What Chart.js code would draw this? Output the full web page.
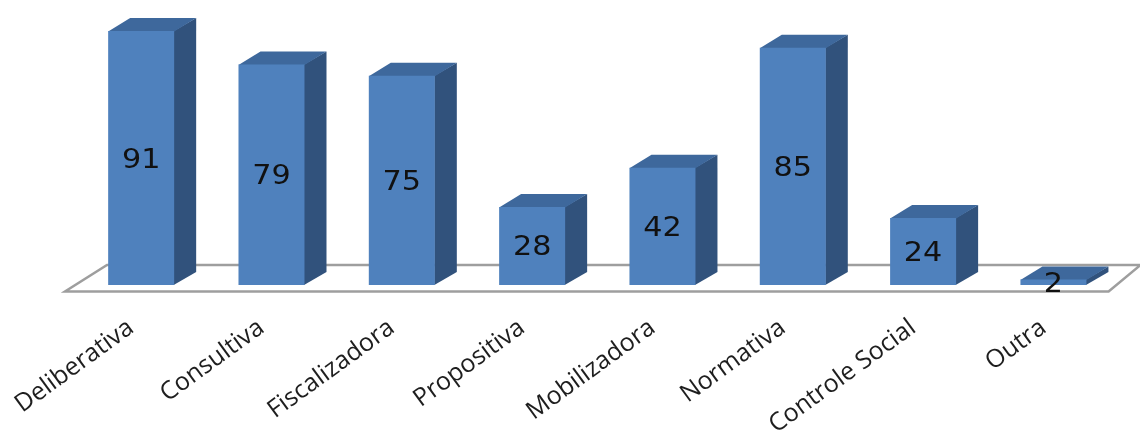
<!DOCTYPE html>
<html lang="pt">
<head>
<meta charset="utf-8">
<title>Funções</title>
<script src="https://cdn.jsdelivr.net/npm/chart.js@4"></script>
<style>
html,body{margin:0;padding:0;background:#fff}
#wrap{width:1140px;height:431px;position:relative}
</style>
</head>
<body>
<div id="wrap"><canvas id="chart"></canvas></div>
<script>
const categories = ["Deliberativa","Consultiva","Fiscalizadora","Propositiva","Mobilizadora","Normativa","Controle Social","Outra"];
const counts = [91,79,75,28,42,85,24,2];

const FRONT = "#4F81BD", TOP = "#3E689C", SIDE = "#31527C", FLOOR = "#9E9E9E";
const DEPTH_X = 22, DEPTH_Y = 13;

function poly(ctx, pts, fill) {
  ctx.beginPath();
  pts.forEach((p, i) => i ? ctx.lineTo(p[0], p[1]) : ctx.moveTo(p[0], p[1]));
  ctx.closePath();
  ctx.fillStyle = fill;
  ctx.fill();
}

// Floor plane under the columns
const floorPlane = {
  id: "floorPlane",
  beforeDatasetsDraw(chart) {
    const { ctx, scales: { x, y } } = chart;
    const base = y.getPixelForValue(0);
    const front = base + 6.5, back = base - 20;
    ctx.save();
    ctx.strokeStyle = FLOOR;
    ctx.lineWidth = 2.5;
    ctx.beginPath();
    ctx.moveTo(x.left - 11, front);
    ctx.lineTo(x.right - 10, front);
    ctx.lineTo(x.right + 22, back);
    ctx.lineTo(x.left + 31, back);
    ctx.closePath();
    ctx.stroke();
    ctx.restore();
  }
};

// Extruded top and side of each column, taken from the bar elements
const extrude = {
  id: "extrude",
  beforeDatasetDraw(chart) {
    const { ctx } = chart;
    ctx.save();
    chart.getDatasetMeta(0).data.forEach(bar => {
      const l = bar.x - bar.width / 2, r = bar.x + bar.width / 2;
      const t = bar.y, b = bar.base;
      poly(ctx, [[r - 0.5, t], [r + DEPTH_X, t - DEPTH_Y], [r + DEPTH_X, b - DEPTH_Y], [r - 0.5, b]], SIDE);
      poly(ctx, [[l, t + 0.5], [l + DEPTH_X, t - DEPTH_Y], [r + DEPTH_X, t - DEPTH_Y], [r, t + 0.5]], TOP);
    });
    ctx.restore();
  }
};

// Value printed in the middle of each column, slightly widened
const valueLabels = {
  id: "valueLabels",
  afterDatasetsDraw(chart) {
    const { ctx } = chart;
    chart.getDatasetMeta(0).data.forEach((bar, i) => {
      ctx.save();
      ctx.translate(bar.x, (bar.y + bar.base) / 2 + 2.5);
      ctx.scale(1.12, 1);
      ctx.font = '27px "DejaVu Sans", sans-serif';
      ctx.fillStyle = "#111111";
      ctx.textAlign = "center";
      ctx.textBaseline = "middle";
      ctx.fillText(String(counts[i]), 0, 0);
      ctx.restore();
    });
  }
};

new Chart(document.getElementById("chart"), {
  type: "bar",
  data: {
    labels: categories,
    datasets: [{ data: counts, backgroundColor: FRONT, borderWidth: 0,
      categoryPercentage: 1, barPercentage: 0.5065 }]
  },
  plugins: [floorPlane, extrude, valueLabels],
  options: {
    responsive: true,
    maintainAspectRatio: false,
    animation: false,
    layout: { padding: { left: 76, right: 21.4, top: 6, bottom: 0 } },
    plugins: { legend: { display: false }, tooltip: { enabled: false } },
    scales: {
      y: { display: false, min: 0, max: 100 },
      x: {
        afterFit(scale) { scale.height = 146; },
        grid: { display: false },
        border: { display: false },
        ticks: {
          autoSkip: false,
          minRotation: 36, maxRotation: 36,
          padding: 20,
          labelOffset: -10,
          color: "#1E1E1E",
          font: { family: '"Open Sans", sans-serif', size: 25 }
        }
      }
    }
  }
});
</script>
</body>
</html>
